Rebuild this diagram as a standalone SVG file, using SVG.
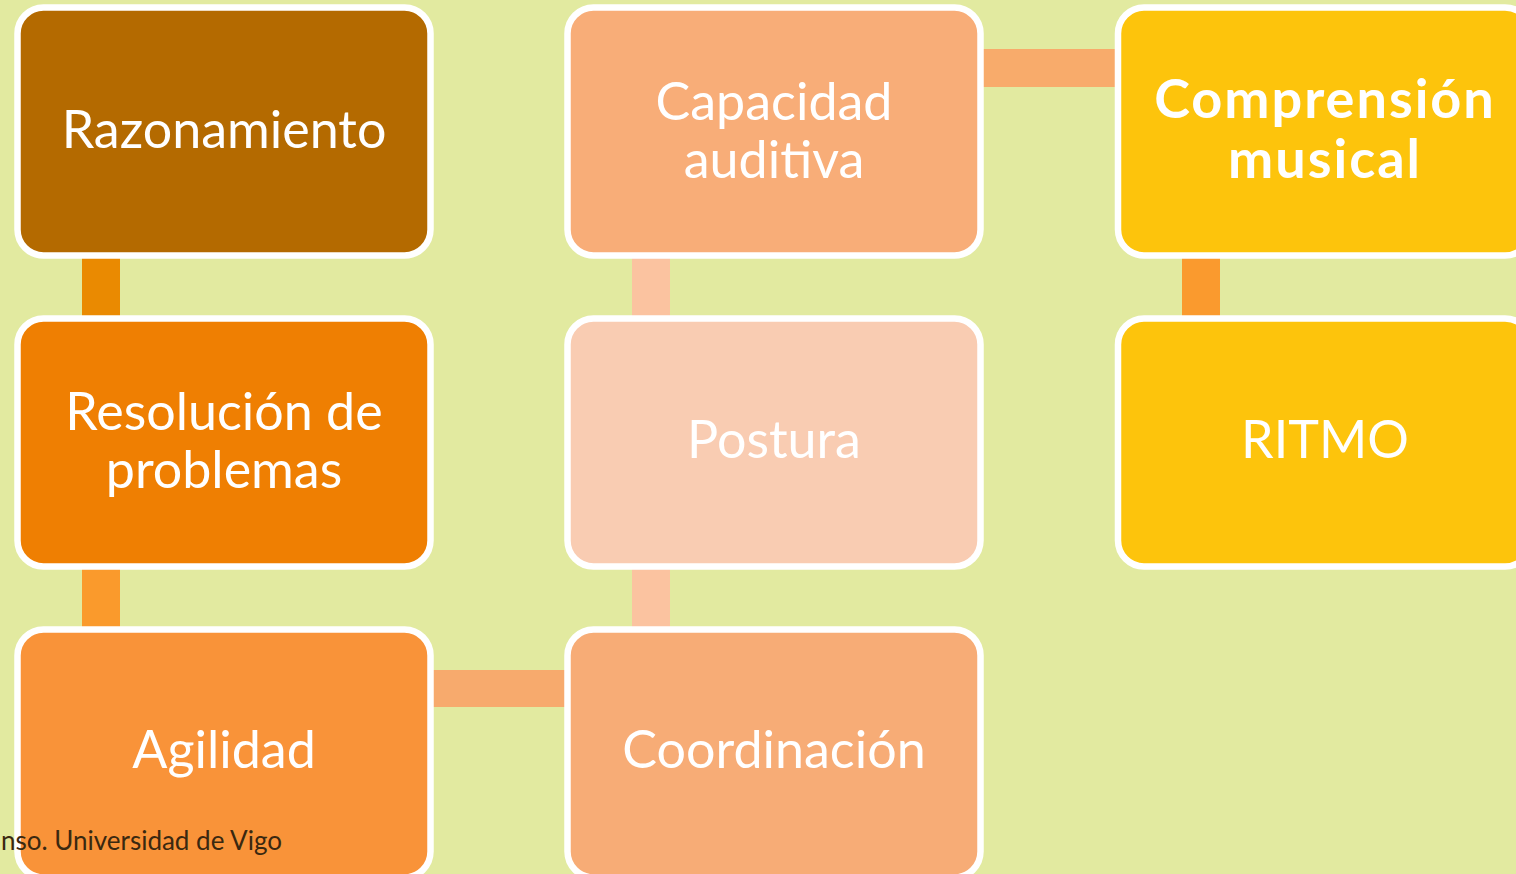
<svg xmlns="http://www.w3.org/2000/svg" width="1516" height="874" viewBox="0 0 1516 874">
<style>
.box{stroke:#FFFFFF;stroke-width:6.5}
.t{font-family:Lato,"Liberation Sans",sans-serif;font-size:52px;fill:#FFFFFF;text-anchor:middle}
.b{font-weight:bold;font-size:54px;letter-spacing:2px}
.foot{font-family:Lato,"Liberation Sans",sans-serif;font-size:26px;fill:#3A2810;text-anchor:end}
</style>
<rect width="1516" height="874" fill="#E2EAA0"/>
<g id="connectors">
<rect x="82" y="256" width="38" height="61" fill="#EA8A01"/>
<rect x="82" y="567" width="38" height="61" fill="#FA9A2C"/>
<rect x="432" y="670" width="134" height="37" fill="#F7AA6D"/>
<rect x="632" y="567" width="38" height="61" fill="#FBC3A0"/>
<rect x="632" y="256" width="38" height="61" fill="#FBC3A0"/>
<rect x="982" y="49" width="135" height="38" fill="#F8AB6B"/>
<rect x="1182" y="256" width="38" height="61" fill="#FA9A2E"/>
</g>
<g id="razonamiento">
<rect class="box" x="17.5" y="7.5" width="413" height="248" rx="26" fill="#B46A00"/>
<text class="t" x="224" y="148">Razonamiento</text>
</g>
<g id="resolucion">
<rect class="box" x="17.5" y="318.5" width="413" height="248" rx="26" fill="#EF7F02"/>
<text class="t" x="224" y="430">Resolución de</text>
<text class="t" x="224" y="488">problemas</text>
</g>
<g id="agilidad">
<rect class="box" x="17.5" y="629.5" width="413" height="248" rx="26" fill="#F99339"/>
<text class="t" x="224" y="768">Agilidad</text>
</g>
<g id="coordinacion">
<rect class="box" x="567.5" y="629.5" width="413" height="248" rx="26" fill="#F7AC76"/>
<text class="t" x="774" y="768">Coordinación</text>
</g>
<g id="postura">
<rect class="box" x="567.5" y="318.5" width="413" height="248" rx="26" fill="#F9CCB2"/>
<text class="t" x="774" y="458">Postura</text>
</g>
<g id="capacidad">
<rect class="box" x="567.5" y="7.5" width="413" height="248" rx="26" fill="#F8AD78"/>
<text class="t" x="774" y="120">Capacidad</text>
<text class="t" x="774" y="178">auditiva</text>
</g>
<g id="comprension">
<rect class="box" x="1118" y="7.5" width="413" height="248" rx="26" fill="#FDC40C"/>
<text class="t b" x="1325" y="118">Comprensión</text>
<text class="t b" x="1325" y="178">musical</text>
</g>
<g id="ritmo">
<rect class="box" x="1118" y="318.5" width="413" height="248" rx="26" fill="#FDC40C"/>
<text class="t" x="1325" y="458">RITMO</text>
</g>
<text class="foot" x="282" y="850">nso. Universidad de Vigo</text>
</svg>
